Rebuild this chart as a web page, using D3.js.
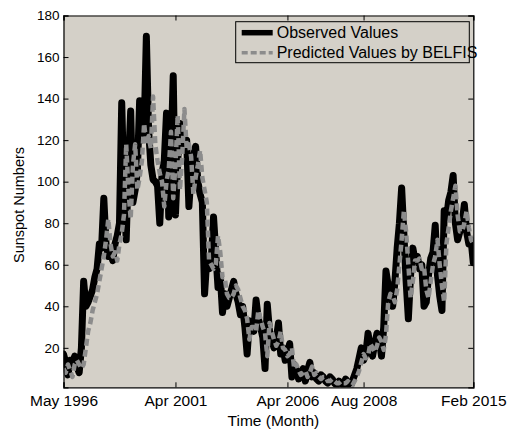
<!DOCTYPE html>
<html>
<head>
<meta charset="utf-8">
<script src="https://cdn.jsdelivr.net/npm/d3@7"></script>
<style>
  html, body { margin: 0; padding: 0; background: #fff; }
  svg { display: block; font-family: "Liberation Sans", Arial, Helvetica, sans-serif; }
</style>
</head>
<body>
<svg id="chart" width="509" height="429"></svg>
<script>
// monthly sunspot numbers (index = sample position)
const observed = [
  17, 13, 7, 14, 12, 16, 11, 8, 20, 52,
  40, 42, 45, 48, 54, 58, 70, 68, 92, 70,
  64, 66, 62, 70, 74, 80, 138, 96, 72, 108,
  134, 90, 96, 105, 139, 120, 124, 170, 125, 108,
  101, 100, 98, 80, 104, 110, 133, 83, 112, 151,
  84, 110, 128, 115, 118, 120, 88, 104, 112, 117,
  100, 94, 90, 46, 63, 58, 62, 83, 66, 49,
  55, 37, 46, 40, 44, 48, 52, 46, 42, 36,
  40, 30, 17, 33, 30, 28, 43, 34, 30, 25,
  10, 41, 28, 24, 20, 24, 32, 17, 20, 14,
  18, 22, 6, 12, 9, 5, 8, 10, 4, 9,
  13, 6, 8, 5, 4, 7, 6, 4, 3, 6,
  5, 3, 2, 4, 3, 2, 5, 3, 1, 4,
  7, 10, 15, 20, 14, 17, 27, 20, 16, 22,
  27, 24, 16, 30, 57, 50, 46, 40, 52, 68,
  80, 97, 75, 52, 34, 55, 68, 62, 64, 58,
  60, 40, 42, 55, 63, 66, 79, 55, 45, 38,
  86, 82, 91, 95, 103, 80, 72, 76, 80, 89,
  76, 70, 72, 61
];

const predicted = [
  10, 8, 12, 9, 6, 12, 14, 12, 10, 12,
  20, 28, 32, 38, 42, 46, 52, 58, 64, 72,
  82, 70, 64, 66, 62, 70, 75, 84, 118, 96,
  82, 108, 118, 96, 102, 110, 128, 118, 122, 116,
  141, 118, 110, 104, 100, 88, 100, 106, 124, 92,
  108, 132, 96, 112, 135, 116, 118, 112, 94, 102,
  108, 115, 102, 96, 90, 62, 60, 58, 60, 74,
  66, 54, 54, 46, 44, 44, 46, 50, 48, 44,
  40, 38, 34, 24, 30, 30, 28, 38, 34, 30,
  27, 16, 32, 28, 24, 21, 23, 28, 20, 19,
  16, 17, 20, 10, 12, 9, 7, 8, 9, 6,
  8, 11, 7, 8, 6, 5, 6, 6, 4, 4,
  5, 4, 3, 3, 4, 3, 3, 4, 3, 2,
  4, 6, 9, 13, 17, 15, 16, 22, 20, 18,
  21, 25, 23, 19, 26, 42, 46, 45, 42, 48,
  60, 72, 86, 76, 60, 44, 52, 62, 62, 63,
  58, 59, 48, 44, 52, 60, 64, 72, 60, 50,
  42, 70, 78, 86, 92, 98, 84, 76, 76, 80,
  86, 78, 72, 70
];

const xTickPos = [0, 50, 100, 134, 183];
const xTickLabels = ["May 1996", "Apr 2001", "Apr 2006", "Aug 2008", "Feb 2015"];
const yTicks = [20, 40, 60, 80, 100, 120, 140, 160, 180];

const seriesNames = ["Observed Values", "Predicted Values by BELFIS"];

const svg = d3.select("#chart");
const margin = { top: 15.5, right: 35.7, bottom: 41.7, left: 63.5 };
const W = 509, H = 429;
const w = W - margin.left - margin.right;
const h = H - margin.top - margin.bottom;

const bg = "#d4d0c8";
const grey = "#8c8c8c";
const blackW = 7, greyW = 4.5, greyDash = "7,4";

const x = d3.scaleLinear().domain([0, 183]).range([0, w]);
const y = d3.scaleLinear().domain([1, 180]).range([h, 0]);

const chart = svg.append("g").attr("transform", `translate(${margin.left},${margin.top})`);

chart.append("rect")
  .attr("width", w).attr("height", h)
  .attr("fill", bg);

chart.append("clipPath").attr("id", "plot-clip")
  .append("rect").attr("width", w).attr("height", h);

const line = d3.line()
  .x((d, i) => x(i))
  .y(d => y(d));

const plot = chart.append("g").attr("clip-path", "url(#plot-clip)");

plot.append("path")
  .datum(observed)
  .attr("d", line)
  .attr("fill", "none")
  .attr("stroke", "#000")
  .attr("stroke-width", blackW)
  .attr("stroke-linejoin", "round")
  .attr("stroke-linecap", "round");

plot.append("path")
  .datum(predicted)
  .attr("d", line)
  .attr("fill", "none")
  .attr("stroke", grey)
  .attr("stroke-width", greyW)
  .attr("stroke-dasharray", greyDash)
  .attr("stroke-linejoin", "round");

// axes (ticks pointing inward, mirrored on top and right)
const tickLen = 5;
const gx = chart.append("g").attr("transform", `translate(0,${h})`)
  .call(d3.axisBottom(x).tickValues(xTickPos).tickSize(-tickLen).tickPadding(8)
    .tickFormat((d, i) => xTickLabels[i]));
const gxTop = chart.append("g")
  .call(d3.axisTop(x).tickValues(xTickPos).tickSize(-tickLen).tickFormat(""));
const gy = chart.append("g")
  .call(d3.axisLeft(y).tickValues(yTicks).tickSize(-tickLen).tickPadding(4));
const gyRight = chart.append("g").attr("transform", `translate(${w},0)`)
  .call(d3.axisRight(y).tickValues(yTicks).tickSize(-tickLen).tickFormat(""));

[gx, gxTop, gy, gyRight].forEach(g => {
  g.select(".domain").attr("stroke", "#000").attr("stroke-width", 1.2);
  g.selectAll(".tick line").attr("stroke", "#000").attr("stroke-width", 1);
});
gx.selectAll("text").attr("fill", "#000").attr("font-size", 15.5)
  .attr("font-family", "Liberation Sans, Arial, sans-serif");
gy.selectAll("text").attr("fill", "#000").attr("font-size", 13.5)
  .attr("font-family", "Liberation Sans, Arial, sans-serif");

// axis titles
chart.append("text")
  .attr("x", w / 2 + 5)
  .attr("y", 426 - margin.top)
  .attr("text-anchor", "middle")
  .attr("font-size", 15.5)
  .text("Time (Month)");

chart.append("text")
  .attr("transform", "rotate(-90)")
  .attr("x", -(205 - margin.top))
  .attr("y", -40)
  .attr("text-anchor", "middle")
  .attr("font-size", 14.5)
  .text("Sunspot Numbers");

// legend
const lg = svg.append("g").attr("transform", "translate(235.7,21.7)");
lg.append("rect")
  .attr("width", 233.6).attr("height", 41)
  .attr("fill", bg)
  .attr("stroke", "#000")
  .attr("stroke-width", 1);

const legendRows = [
  { name: seriesNames[0], color: "#000", width: 5.5, dash: null },
  { name: seriesNames[1], color: grey, width: 3.5, dash: "6,3" }
];

legendRows.forEach((r, i) => {
  const cy = 11 + i * 20;
  lg.append("line")
    .attr("x1", 6).attr("x2", 37)
    .attr("y1", cy).attr("y2", cy)
    .attr("stroke", r.color)
    .attr("stroke-width", r.width)
    .attr("stroke-dasharray", r.dash);
  lg.append("text")
    .attr("x", 41)
    .attr("y", cy + 5.5)
    .attr("font-size", 16)
    .attr("fill", "#000")
    .text(r.name);
});
</script>
</body>
</html>
